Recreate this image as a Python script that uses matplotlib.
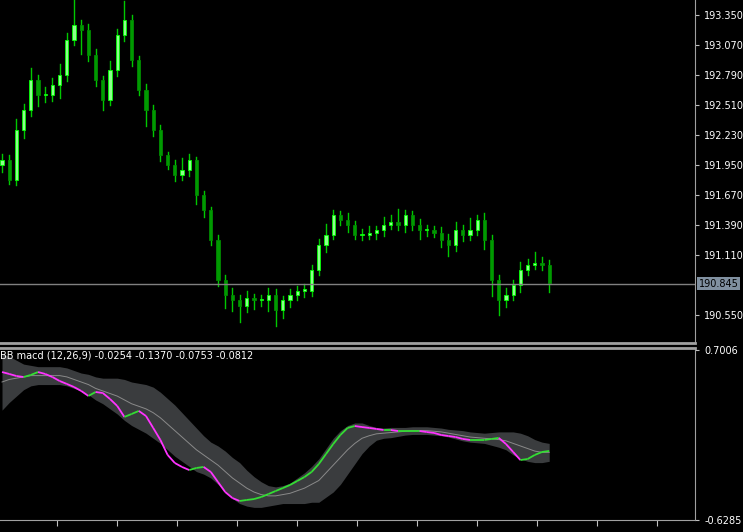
import numpy as np
import matplotlib
matplotlib.use("Agg")
import matplotlib.pyplot as plt
from matplotlib.collections import LineCollection
from matplotlib.patches import Rectangle

# price closes (one per candle)
closes = [192.00, 191.81, 192.28, 192.46, 192.74, 192.60, 192.60, 192.70, 192.79, 193.12,
          193.26, 193.21, 192.98, 192.74, 192.56, 192.84, 193.16, 193.30, 192.93, 192.65,
          192.46, 192.28, 192.04, 191.95, 191.86, 191.90, 192.00, 191.67, 191.53, 191.25,
          190.88, 190.74, 190.69, 190.64, 190.71, 190.69, 190.69, 190.74, 190.60, 190.69,
          190.74, 190.78, 190.78, 190.97, 191.20, 191.30, 191.48, 191.44, 191.39, 191.30,
          191.30, 191.32, 191.34, 191.39, 191.42, 191.39, 191.48, 191.39, 191.34, 191.34,
          191.32, 191.25, 191.20, 191.34, 191.30, 191.34, 191.44, 191.25, 190.88, 190.69,
          190.74, 190.83, 190.97, 191.02, 191.04, 191.02, 190.85]
first_open = 191.95
wick_hi = [0.05, 0.04, 0.10, 0.06, 0.12, 0.05, 0.08, 0.06, 0.10, 0.06,
           0.23, 0.04, 0.06, 0.05, 0.04, 0.08, 0.06, 0.18, 0.05, 0.04,
           0.06, 0.05, 0.04, 0.03, 0.05, 0.12, 0.05, 0.03, 0.04, 0.03,
           0.05, 0.04, 0.06, 0.05, 0.07, 0.04, 0.05, 0.06, 0.05, 0.04,
           0.05, 0.04, 0.06, 0.05, 0.06, 0.10, 0.05, 0.04, 0.06, 0.04,
           0.05, 0.06, 0.04, 0.08, 0.06, 0.12, 0.05, 0.04, 0.06, 0.05,
           0.04, 0.05, 0.06, 0.08, 0.05, 0.12, 0.04, 0.06, 0.05, 0.04,
           0.06, 0.05, 0.08, 0.05, 0.10, 0.05, 0.04]
wick_lo = [0.06, 0.04, 0.05, 0.08, 0.05, 0.10, 0.06, 0.05, 0.12, 0.06,
           0.05, 0.22, 0.06, 0.05, 0.10, 0.05, 0.06, 0.05, 0.06, 0.05,
           0.15, 0.06, 0.05, 0.04, 0.06, 0.05, 0.05, 0.08, 0.06, 0.05,
           0.06, 0.12, 0.10, 0.15, 0.06, 0.08, 0.05, 0.10, 0.15, 0.08,
           0.06, 0.05, 0.06, 0.05, 0.05, 0.06, 0.04, 0.05, 0.06, 0.04,
           0.05, 0.04, 0.06, 0.05, 0.04, 0.05, 0.06, 0.05, 0.08, 0.05,
           0.04, 0.06, 0.10, 0.05, 0.06, 0.05, 0.04, 0.08, 0.15, 0.14,
           0.06, 0.05, 0.06, 0.05, 0.04, 0.05, 0.08]

macd = [0.528, 0.513, 0.497, 0.489, 0.505, 0.528, 0.513, 0.489, 0.458, 0.435,
        0.411, 0.380, 0.341, 0.372, 0.364, 0.317, 0.263, 0.177, 0.200, 0.224,
        0.184, 0.091, -0.003, -0.120, -0.183, -0.214, -0.238, -0.222, -0.214, -0.253,
        -0.332, -0.410, -0.457, -0.480, -0.472, -0.465, -0.449, -0.426, -0.402, -0.379,
        -0.355, -0.324, -0.293, -0.253, -0.191, -0.113, -0.035, 0.036, 0.091, 0.106,
        0.098, 0.091, 0.083, 0.075, 0.075, 0.067, 0.067, 0.067, 0.067, 0.059,
        0.052, 0.036, 0.028, 0.020, 0.005, -0.003, -0.003, -0.003, 0.005, 0.013,
        -0.035, -0.097, -0.160, -0.152, -0.120, -0.097, -0.089]
signal = [0.45, 0.47, 0.48, 0.49, 0.50, 0.50, 0.50, 0.50, 0.50, 0.49,
          0.47, 0.45, 0.43, 0.40, 0.38, 0.36, 0.34, 0.31, 0.28, 0.26,
          0.24, 0.21, 0.17, 0.12, 0.07, 0.02, -0.03, -0.08, -0.12, -0.16,
          -0.20, -0.25, -0.30, -0.34, -0.38, -0.41, -0.43, -0.44, -0.44, -0.43,
          -0.42, -0.40, -0.38, -0.35, -0.32, -0.26, -0.20, -0.14, -0.08, -0.03,
          0.01, 0.03, 0.045, 0.05, 0.055, 0.06, 0.065, 0.07, 0.07, 0.07,
          0.065, 0.06, 0.05, 0.04, 0.03, 0.02, 0.015, 0.01, 0.005, 0.0,
          -0.01, -0.03, -0.05, -0.07, -0.09, -0.10, -0.10]
band_hw = [0.22, 0.18, 0.14, 0.10, 0.08, 0.07, 0.07, 0.07, 0.07, 0.07,
           0.07, 0.07, 0.08, 0.09, 0.10, 0.12, 0.14, 0.16, 0.17, 0.18,
           0.19, 0.20, 0.20, 0.20, 0.20, 0.19, 0.18, 0.17, 0.15, 0.14,
           0.15, 0.16, 0.16, 0.16, 0.14, 0.12, 0.10, 0.08, 0.07, 0.07,
           0.08, 0.10, 0.12, 0.14, 0.17, 0.19, 0.21, 0.21, 0.19, 0.16,
           0.12, 0.08, 0.05, 0.04, 0.04, 0.035, 0.03, 0.03, 0.03, 0.03,
           0.03, 0.03, 0.03, 0.035, 0.04, 0.04, 0.04, 0.04, 0.05, 0.06,
           0.07, 0.09, 0.10, 0.10, 0.09, 0.08, 0.07]

price_ticks = [193.350, 193.070, 192.790, 192.510, 192.230, 191.950, 191.670, 191.390, 191.110, 190.550]
last_price = 190.845
macd_top, macd_bot = 0.7006, -0.6285
label = "BB macd (12,26,9) -0.0254 -0.1370 -0.0753 -0.0812"

fig = plt.figure(figsize=(7.43, 5.32), dpi=100, facecolor="black")
ax = fig.add_axes([0, 0.355, 695 / 743, 0.645], facecolor="black")
ax2 = fig.add_axes([0, 0.0226, 695 / 743, 0.3233], facecolor="black")

n = len(closes)
x = np.arange(n)
opens = [first_open] + closes[:-1]
for i in range(n):
    o, c = opens[i], closes[i]
    hi = max(o, c) + wick_hi[i]
    lo = min(o, c) - wick_lo[i]
    up = c >= o
    col = "#8cff8c" if up else "#009a00"
    ax.plot([i, i], [lo, hi], color="#00c800", lw=1, zorder=1)
    ax.add_patch(Rectangle((i - 0.22, min(o, c)), 0.44, max(abs(c - o), 0.01),
                           facecolor=col, edgecolor="#00ff00" if up else "#008800", lw=0.6, zorder=2))

ax.axhline(last_price, color="#808080", lw=1)
ax.set_xlim(-0.28, 96.25)
ax.set_ylim(190.289, 193.49)
ax.yaxis.tick_right()
ax.set_yticks(price_ticks)
ax.set_yticklabels(["%.3f" % v for v in price_ticks], color="white", fontsize=7)
ax.set_xticks([])
ax.text(1.005, last_price, "%.3f" % last_price, transform=ax.get_yaxis_transform(),
        color="black", fontsize=7, va="center", ha="left",
        bbox=dict(boxstyle="square,pad=0.15", fc="#8090a0", ec="none"))

sig = np.array(signal)
hw = np.array(band_hw)
ax2.fill_between(x, sig - hw, sig + hw, color="#3a3c3e", lw=0)
ax2.plot(x, sig, color="#8a8a8a", lw=0.7)
m = np.array(macd)
segs = [[(i, m[i]), (i + 1, m[i + 1])] for i in range(n - 1)]
cols = ["#33dd33" if m[i + 1] >= m[i] else "#ff33ff" for i in range(n - 1)]
ax2.add_collection(LineCollection(segs, colors=cols, lw=1.3))
ax2.set_xlim(-0.28, 96.25)
ax2.set_ylim(-0.6285, 0.716)
ax2.yaxis.tick_right()
ax2.set_yticks([macd_top, macd_bot])
ax2.set_yticklabels(["%.4f" % macd_top, "%.4f" % macd_bot], color="white", fontsize=7)
ax2.set_xticks(np.arange(7.64, 96, 8.33))
ax2.set_xticklabels([])
ax2.tick_params(axis="x", colors="#c0c0c0", length=4)
ax2.text(0.0, 0.985, label, transform=ax2.transAxes, color="white", fontsize=7, va="top")

for a in (ax, ax2):
    for s in a.spines.values():
        s.set_color("#a0a0a0")
    a.spines["left"].set_visible(False)
    a.tick_params(axis="y", colors="#c0c0c0", length=3, labelcolor="white")
ax.spines["top"].set_visible(False)
ax.spines["bottom"].set_linewidth(2)
ax2.spines["top"].set_linewidth(2)

fig.savefig("out.png", dpi=100, facecolor="black")
